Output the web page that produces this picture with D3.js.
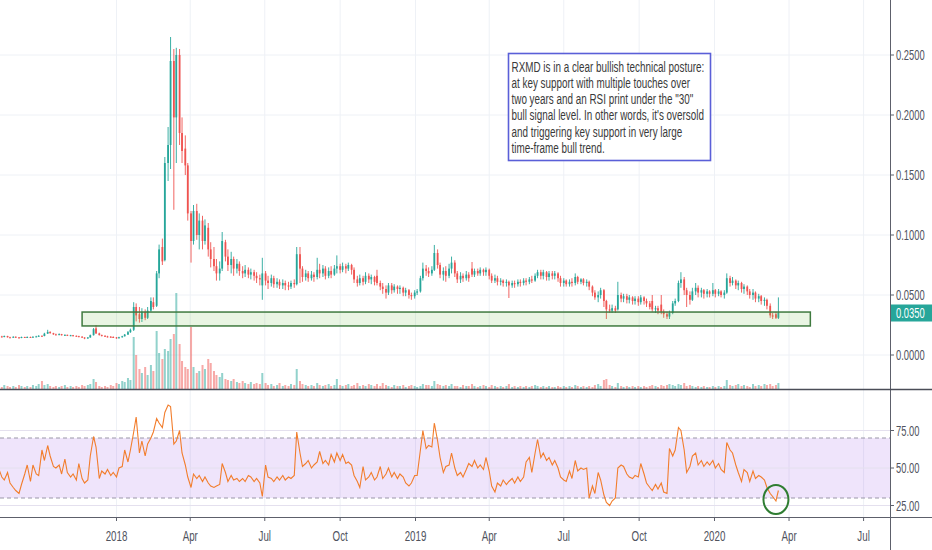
<!DOCTYPE html>
<html>
<head>
<meta charset="utf-8">
<script src="https://cdn.jsdelivr.net/npm/d3@7"></script>
<style>
html,body{margin:0;padding:0;background:#fff;}
svg{display:block;font-family:"Liberation Sans",Arial,sans-serif;}
</style>
</head>
<body>
<svg id="chart" width="932" height="550"></svg>
<script>
// ---- DATA ----
// bars: one every Monday and Thursday, 10 Aug 2017 .. 19 Mar 2020
const barDates = d3.timeDay.range(new Date(2017,7,10), new Date(2020,2,20))
  .filter(d => d.getDay() === 1 || d.getDay() === 4);

const openP = [
.0158,.0155,.0150,.0158,.0148,.0145,.0152,.0147,.0143,.0150,
.0146,.0150,.0148,.0152,.0155,.0160,.0158,.0178,.0192,.0182,
.0172,.0168,.0174,.0165,.0168,.0162,.0165,.0160,.0157,.0153,
.0146,.0138,.0146,.0165,.0222,.0180,.0166,.0160,.0155,.0152,
.0150,.0147,.0140,.0148,.0156,.0170,.0190,.021,.040,.034,
.030,.036,.031,.037,.044,.041,.068,.090,.079,.160,
.175,.245,.198,.250,.185,.172,.158,.118,.095,.120,
.100,.112,.095,.106,.088,.080,.074,.068,.072,.094,
.082,.075,.080,.072,.076,.070,.068,.071,.067,.069,
.066,.064,.058,.068,.062,.060,.064,.059,.061,.058,
.060,.058,.057,.060,.059,.084,.072,.065,.068,.064,
.067,.065,.071,.068,.072,.066,.070,.067,.072,.074,
.071,.074,.072,.075,.071,.063,.060,.064,.061,.066,
.063,.065,.066,.060,.057,.055,.052,.058,.054,.057,
.055,.056,.052,.054,.050,.049,.052,.053,.064,.072,
.070,.068,.071,.085,.075,.067,.070,.066,.072,.077,
.068,.063,.066,.064,.067,.072,.067,.070,.068,.071,
.069,.071,.066,.062,.064,.061,.062,.060,.061,.058,
.060,.059,.061,.060,.062,.061,.063,.062,.066,.069,
.066,.069,.065,.068,.066,.068,.064,.060,.062,.059,
.061,.060,.065,.061,.063,.060,.061,.057,.052,.048,
.050,.054,.045,.038,.037,.039,.038,.050,.047,.049,
.046,.048,.045,.047,.044,.048,.045,.043,.045,.038,
.039,.042,.036,.034,.032,.035,.043,.045,.060,.063,
.054,.050,.046,.053,.056,.052,.054,.051,.053,.051,
.054,.051,.053,.050,.052,.064,.060,.062,.058,.060,
.055,.057,.053,.050,.052,.047,.049,.045,.046,.041,
.033,.034,.031];

const highP = [
.0165,.0160,.0162,.0160,.0152,.0156,.0155,.0150,.0153,.0152,
.0155,.0153,.0156,.0160,.0165,.0163,.0185,.0210,.0198,.0185,
.0178,.0180,.0176,.0172,.0170,.0168,.0167,.0163,.0160,.0156,
.0148,.0150,.0170,.0225,.0250,.0186,.0170,.0165,.0160,.0158,
.0156,.0150,.0152,.0160,.0175,.0200,.0220,.044,.043,.040,
.039,.038,.040,.048,.048,.070,.092,.097,.165,.190,
.265,.255,.256,.255,.198,.183,.160,.120,.125,.126,
.118,.116,.113,.110,.094,.090,.080,.078,.1025,.096,
.088,.086,.082,.080,.078,.074,.075,.073,.072,.071,
.069,.067,.081,.070,.066,.067,.066,.064,.063,.063,
.062,.061,.062,.063,.090,.090,.074,.071,.070,.070,
.069,.081,.076,.075,.074,.073,.074,.075,.083,.076,
.077,.076,.077,.076,.073,.066,.067,.066,.069,.068,
.067,.066,.071,.062,.060,.058,.060,.060,.059,.058,
.058,.057,.056,.055,.052,.054,.055,.066,.077,.075,
.073,.074,.0917,.088,.077,.073,.074,.076,.082,.079,
.070,.069,.068,.070,.069,.0775,.072,.072,.073,.072,
.073,.072,.068,.067,.066,.064,.063,.063,.062,.062,
.062,.063,.063,.064,.064,.065,.066,.068,.071,.071,
.071,.070,.070,.070,.070,.069,.066,.064,.063,.063,
.064,.068,.066,.064,.064,.063,.062,.058,.054,.053,
.056,.055,.046,.042,.042,.041,.061,.052,.051,.051,
.050,.049,.049,.049,.050,.049,.047,.045,.050,.041,
.041,.050,.038,.036,.037,.045,.047,.062,.069,.065,
.056,.053,.056,.060,.058,.056,.055,.055,.054,.060,
.055,.055,.054,.054,.068,.066,.065,.063,.062,.061,
.059,.058,.055,.055,.053,.051,.050,.048,.047,.043,
.035,.036,.048];

const lowP = [
.0150,.0146,.0148,.0145,.0140,.0143,.0143,.0138,.0140,.0142,
.0144,.0143,.0146,.0149,.0152,.0153,.0156,.0175,.0178,.0168,
.0164,.0165,.0162,.0160,.0158,.0157,.0155,.0152,.0148,.0142,
.0132,.0135,.0144,.0162,.0175,.0162,.0155,.0150,.0146,.0145,
.0142,.0135,.0137,.0145,.0154,.0168,.0185,.020,.028,.027,
.0275,.029,.030,.036,.038,.040,.064,.075,.078,.145,
.155,.121,.160,.175,.160,.150,.112,.077,.092,.096,
.088,.088,.092,.082,.073,.070,.062,.062,.070,.078,
.070,.068,.066,.068,.066,.064,.065,.064,.063,.062,
.060,.058,.046,.058,.055,.057,.056,.056,.055,.055,
.054,.054,.055,.056,.058,.060,.061,.062,.061,.062,
.061,.063,.064,.065,.063,.064,.064,.066,.068,.068,
.069,.068,.070,.067,.060,.057,.058,.058,.059,.060,
.059,.058,.058,.054,.051,.047,.050,.051,.052,.051,
.051,.049,.049,.047,.046,.047,.050,.052,.062,.066,
.065,.066,.070,.072,.064,.062,.061,.064,.068,.065,
.060,.060,.061,.062,.061,.065,.065,.066,.066,.066,
.066,.063,.060,.060,.058,.058,.057,.057,.0475,.056,
.056,.057,.057,.058,.058,.059,.060,.061,.064,.063,
.063,.062,.062,.063,.063,.061,.057,.057,.057,.057,
.057,.058,.059,.059,.058,.057,.054,.049,.046,.044,
.047,.040,.030,.035,.035,.035,.037,.044,.044,.043,
.043,.042,.042,.041,.042,.042,.040,.038,.036,.035,
.034,.034,.031,.030,.030,.034,.041,.044,.056,.050,
.040,.042,.045,.050,.048,.048,.047,.048,.048,.049,
.048,.049,.048,.047,.051,.057,.058,.055,.054,.052,
.051,.050,.047,.046,.044,.044,.042,.041,.038,.031,
.030,.030,.030];

const closeP = [
.0155,.0150,.0158,.0148,.0145,.0152,.0147,.0143,.0150,.0146,
.0150,.0148,.0152,.0155,.0160,.0158,.0178,.0192,.0182,.0172,
.0168,.0174,.0165,.0168,.0162,.0165,.0160,.0157,.0153,.0146,
.0138,.0146,.0165,.0215,.0180,.0166,.0160,.0155,.0152,.0150,
.0147,.0140,.0148,.0156,.0170,.0190,.0210,.040,.033,.030,
.036,.031,.037,.045,.040,.068,.088,.078,.160,.175,
.245,.198,.250,.185,.170,.158,.118,.095,.120,.100,
.112,.095,.108,.088,.080,.074,.068,.072,.095,.082,
.075,.080,.072,.076,.070,.068,.071,.067,.069,.066,
.064,.063,.068,.062,.060,.064,.059,.061,.058,.060,
.058,.057,.060,.059,.084,.072,.065,.068,.064,.067,
.065,.071,.068,.072,.066,.070,.067,.072,.074,.071,
.074,.072,.075,.071,.063,.060,.064,.061,.066,.063,
.065,.061,.060,.057,.055,.052,.058,.054,.057,.055,
.056,.052,.054,.050,.049,.052,.053,.064,.072,.070,
.068,.071,.085,.075,.067,.070,.066,.072,.077,.068,
.063,.066,.064,.067,.064,.067,.070,.068,.071,.069,
.071,.066,.062,.064,.061,.062,.060,.061,.058,.060,
.059,.061,.060,.062,.061,.063,.062,.066,.069,.066,
.069,.065,.068,.066,.068,.064,.060,.062,.059,.061,
.060,.065,.061,.063,.060,.061,.057,.052,.048,.050,
.054,.045,.038,.037,.039,.037,.050,.047,.049,.046,
.048,.045,.047,.044,.048,.045,.043,.040,.038,.039,
.037,.036,.034,.032,.035,.043,.045,.060,.063,.054,
.050,.046,.053,.056,.052,.054,.051,.053,.051,.054,
.051,.053,.050,.052,.064,.060,.062,.058,.060,.055,
.057,.053,.050,.052,.047,.049,.045,.046,.041,.033,
.032,.031,.035];

// volume, millions of shares
const volume = [
3,2,4,3,2,3,2,4,3,2,
3,2,4,3,5,8,4,5,3,2,
3,2,3,4,2,3,2,3,2,4,
3,4,5,10,7,3,2,3,2,4,
3,6,5,8,7,11,9,52,34,20,
16,22,14,24,18,58,36,30,40,38,
50,55,96,45,28,22,20,62,22,16,
18,24,20,30,26,18,14,12,16,10,
9,8,10,7,6,8,6,5,7,5,
6,5,16,6,4,5,3,4,6,3,
4,3,5,4,20,8,5,4,3,4,
3,6,4,3,4,5,3,4,10,4,
3,4,5,3,4,6,3,4,3,5,
4,3,5,3,6,4,3,2,4,3,
3,4,2,3,4,3,2,3,5,4,
4,3,8,5,4,3,4,3,5,3,
3,2,4,3,3,5,3,2,3,4,
3,2,4,3,2,3,2,3,5,2,
3,2,3,2,3,2,3,4,3,2,
3,2,3,2,2,3,2,3,2,3,
2,4,3,2,3,2,3,2,4,5,
3,9,10,4,3,2,6,3,2,3,
2,3,2,3,2,3,2,3,4,3,
2,4,3,4,5,4,3,5,4,6,
3,4,3,2,3,2,3,2,2,3,
2,3,2,3,9,4,3,4,5,3,
4,3,2,5,3,4,3,5,4,5,
3,4,6];

const rsi = [
50,44,42,47,40,37,35,33,39,46,
52,41,52,46,45,62,55,65,58,51,
50,52,46,56,47,44,46,42,53,43,
40,42,58,71,64,43,48,46,49,45,
47,44,50,51,62,54,62,74,84,60,
68,58,66,70,74,83,80,77,87,92,
91,66,68,75,60,52,44,37,46,43,
45,41,44,40,38,37,38,39,53,47,
41,45,42,43,41,43,41,45,44,41,
43,40,31,52,44,43,41,44,42,45,
42,44,43,45,74,60,51,53,55,50,
52,54,61,53,55,52,59,54,60,55,
59,53,54,52,45,41,37,51,42,44,
47,42,44,51,43,46,50,44,47,43,
46,44,40,38,40,45,45,62,75,63,
65,64,80,68,57,47,51,52,60,50,
45,47,44,49,53,51,55,50,52,49,
57,48,38,34,40,38,42,39,41,43,
40,44,41,44,54,57,47,60,69,57,
60,55,57,52,55,50,44,42,41,48,
43,55,48,50,49,50,30,38,33,47,
42,32,27,25,28,30,50,52,51,46,
44,43,45,44,53,46,40,37,35,39,
36,40,34,33,63,58,62,77,75,62,
47,51,58,60,52,55,51,54,52,55,
50,53,49,47,67,62,60,52,47,41,
49,47,41,48,43,45,44,42,37,33,
31,28,35];

const priceTicks = [0, 0.05, 0.10, 0.15, 0.20, 0.25];
const priceTickLabels = ["0.0000","0.0500","0.1000","0.1500","0.2000","0.2500"];
const rsiTicks = [25, 50, 75];
const rsiTickLabels = ["25.00","50.00","75.00"];
const timeTicks = [new Date(2018,0,1),new Date(2018,3,1),new Date(2018,6,1),new Date(2018,9,1),
  new Date(2019,0,1),new Date(2019,3,1),new Date(2019,6,1),new Date(2019,9,1),
  new Date(2020,0,1),new Date(2020,3,1),new Date(2020,6,1)];
const timeTickLabels = ["2018","Apr","Jul","Oct","2019","Apr","Jul","Oct","2020","Apr","Jul"];
const supportZone = {start: new Date(2017,10,20), end: new Date(2020,3,27), low: 0.0242, high: 0.0358};
const lastPrice = 0.0350;
const rsiCircle = {date: new Date(2020,2,16), value: 29};
const noteLines = [
  "RXMD is in a clear bullish technical posture:",
  "at key support with multiple touches over",
  "two years and an RSI print under the \"30\"",
  "bull signal level. In other words, it's oversold",
  "and triggering key support in very large",
  "time-frame bull trend."
];

// ---- LAYOUT ----
const svg = d3.select("#chart");
const plotR = 890, mainBottom = 389, rsiBottom = 517;
const x = d3.scaleTime().domain([new Date(2018,0,1), new Date(2020,0,1)]).range([116.5, 714.5]);
const y = d3.scaleLinear().domain([0, 0.25]).range([355, 55]);
const yv = d3.scaleLinear().domain([0, 100]).range([mainBottom, mainBottom - 100]);
const yr = d3.scaleLinear().domain([25, 75]).range([505.5, 430.5]);

const n = Math.min(barDates.length, openP.length, highP.length, lowP.length, closeP.length, volume.length, rsi.length);
const bars = d3.range(n).map(i => ({d: barDates[i], o: openP[i], h: highP[i], l: lowP[i], c: closeP[i], v: volume[i], r: rsi[i]}));

const UP = "#26a69a", DN = "#ef5350";
const gridC = "#eef1f6", axisC = "#5d606b", textC = "#50535e";

svg.append("rect").attr("width",932).attr("height",550).attr("fill","#fff");
const defs = svg.append("defs");
defs.append("clipPath").attr("id","clipMain").append("rect").attr("x",0).attr("y",0).attr("width",plotR).attr("height",mainBottom);
defs.append("clipPath").attr("id","clipRsi").append("rect").attr("x",0).attr("y",mainBottom).attr("width",plotR).attr("height",rsiBottom-mainBottom);

// grids
const grid = svg.append("g");
grid.selectAll("line.vg").data(timeTicks).join("line")
  .attr("x1",d=>x(d)).attr("x2",d=>x(d)).attr("y1",0).attr("y2",rsiBottom)
  .attr("stroke",gridC).attr("stroke-width",1);
grid.selectAll("line.hg").data(priceTicks).join("line")
  .attr("x1",0).attr("x2",plotR).attr("y1",d=>y(d)).attr("y2",d=>y(d))
  .attr("stroke",gridC).attr("stroke-width",1);

// main pane
const main = svg.append("g").attr("clip-path","url(#clipMain)");
main.selectAll("rect.vol").data(bars).join("rect")
  .attr("x",d=>x(d.d)-1).attr("width",2)
  .attr("y",d=>yv(d.v)).attr("height",d=>mainBottom-yv(d.v))
  .attr("fill",d=>d.c>=d.o?UP:DN).attr("fill-opacity",0.5);

const cg = main.append("g");
cg.selectAll("line.wick").data(bars).join("line")
  .attr("x1",d=>x(d.d)).attr("x2",d=>x(d.d))
  .attr("y1",d=>y(d.h)).attr("y2",d=>y(d.l))
  .attr("stroke",d=>d.c>=d.o?UP:DN).attr("stroke-width",0.9);
cg.selectAll("rect.body").data(bars).join("rect")
  .attr("x",d=>x(d.d)-0.9).attr("width",1.8)
  .attr("y",d=>y(Math.max(d.o,d.c)))
  .attr("height",d=>Math.max(1,Math.abs(y(d.o)-y(d.c))))
  .attr("fill",d=>d.c>=d.o?UP:DN);

// support zone
main.append("rect")
  .attr("x",x(supportZone.start)).attr("width",x(supportZone.end)-x(supportZone.start))
  .attr("y",y(supportZone.high)).attr("height",y(supportZone.low)-y(supportZone.high))
  .attr("fill","rgb(120,190,80)").attr("fill-opacity",0.16)
  .attr("stroke","#3f7a3f").attr("stroke-width",1.5);

// annotation box
const note = svg.append("g");
note.append("rect").attr("x",508.5).attr("y",53.5).attr("width",202).attr("height",107)
  .attr("fill","#fff").attr("fill-opacity",0.92)
  .attr("stroke","#5a5fd8").attr("stroke-width",1.6);
const probe = note.append("text").style("font-size","15px").text(noteLines[0]);
const natW = probe.node().getComputedTextLength();
probe.remove();
const nsx = 193 / natW;
noteLines.forEach((t,i)=>{
  note.append("text")
    .attr("transform",`translate(511.5,${71.5 + i*16.3}) scale(${nsx},1)`)
    .style("font-size","15px").attr("fill","#3a3a3a").text(t);
});

// RSI pane
const rp = svg.append("g").attr("clip-path","url(#clipRsi)");
rp.append("rect").attr("x",0).attr("width",plotR)
  .attr("y",yr(70)).attr("height",yr(30)-yr(70))
  .attr("fill","rgb(122,30,222)").attr("fill-opacity",0.12);
rp.selectAll("line.rg").data(rsiTicks).join("line")
  .attr("x1",0).attr("x2",plotR).attr("y1",d=>yr(d)).attr("y2",d=>yr(d))
  .attr("stroke","#e4e0ee").attr("stroke-width",1);
[70,30].forEach(v=>{
  rp.append("line").attr("x1",0).attr("x2",plotR).attr("y1",yr(v)).attr("y2",yr(v))
    .attr("stroke","#9a97a8").attr("stroke-width",1).attr("stroke-dasharray","4,3");
});
rp.append("path").datum(bars)
  .attr("d",d3.line().x(d=>x(d.d)).y(d=>yr(d.r)))
  .attr("fill","none").attr("stroke","#f27d2c").attr("stroke-width",1.1);
svg.append("ellipse").attr("cx",x(rsiCircle.date)).attr("cy",yr(rsiCircle.value))
  .attr("rx",12.5).attr("ry",14.5)
  .attr("fill","none").attr("stroke","#2f7d32").attr("stroke-width",2);

// axes & separators
const ax = svg.append("g");
ax.append("line").attr("x1",plotR+0.5).attr("x2",plotR+0.5).attr("y1",0).attr("y2",550).attr("stroke",axisC).attr("stroke-width",1);
ax.append("line").attr("x1",0).attr("x2",932).attr("y1",mainBottom+0.5).attr("y2",mainBottom+0.5).attr("stroke","#4a4d57").attr("stroke-width",1.6);
ax.append("line").attr("x1",0).attr("x2",932).attr("y1",rsiBottom+0.5).attr("y2",rsiBottom+0.5).attr("stroke",axisC).attr("stroke-width",1.2);

function ctext(g, tx, ty, str, size, sx, anchor, color){
  return g.append("text").attr("transform",`translate(${tx},${ty}) scale(${sx},1)`)
    .attr("text-anchor",anchor).style("font-size",size+"px").attr("fill",color).text(str);
}
priceTicks.forEach((v,i)=>{
  ax.append("line").attr("x1",plotR).attr("x2",plotR+4).attr("y1",y(v)).attr("y2",y(v)).attr("stroke",axisC);
  ctext(ax, 896, y(v)+5, priceTickLabels[i], 14, 0.67, "start", textC);
});
rsiTicks.forEach((v,i)=>{
  ax.append("line").attr("x1",plotR).attr("x2",plotR+4).attr("y1",yr(v)).attr("y2",yr(v)).attr("stroke",axisC);
  ctext(ax, 896, yr(v)+5, rsiTickLabels[i], 14, 0.67, "start", textC);
});
timeTicks.forEach((d,i)=>{
  ax.append("line").attr("x1",x(d)).attr("x2",x(d)).attr("y1",rsiBottom).attr("y2",rsiBottom+4).attr("stroke",axisC);
  ctext(ax, x(d), 540.5, timeTickLabels[i], 15, 0.65, "middle", textC);
});

// last price label
ax.append("rect").attr("x",plotR+1).attr("y",y(lastPrice)-8.5).attr("width",41).attr("height",17).attr("fill","#26a69a");
ctext(ax, 896, y(lastPrice)+5, lastPrice.toFixed(4), 14, 0.67, "start", "#fff");
</script>
</body>
</html>
